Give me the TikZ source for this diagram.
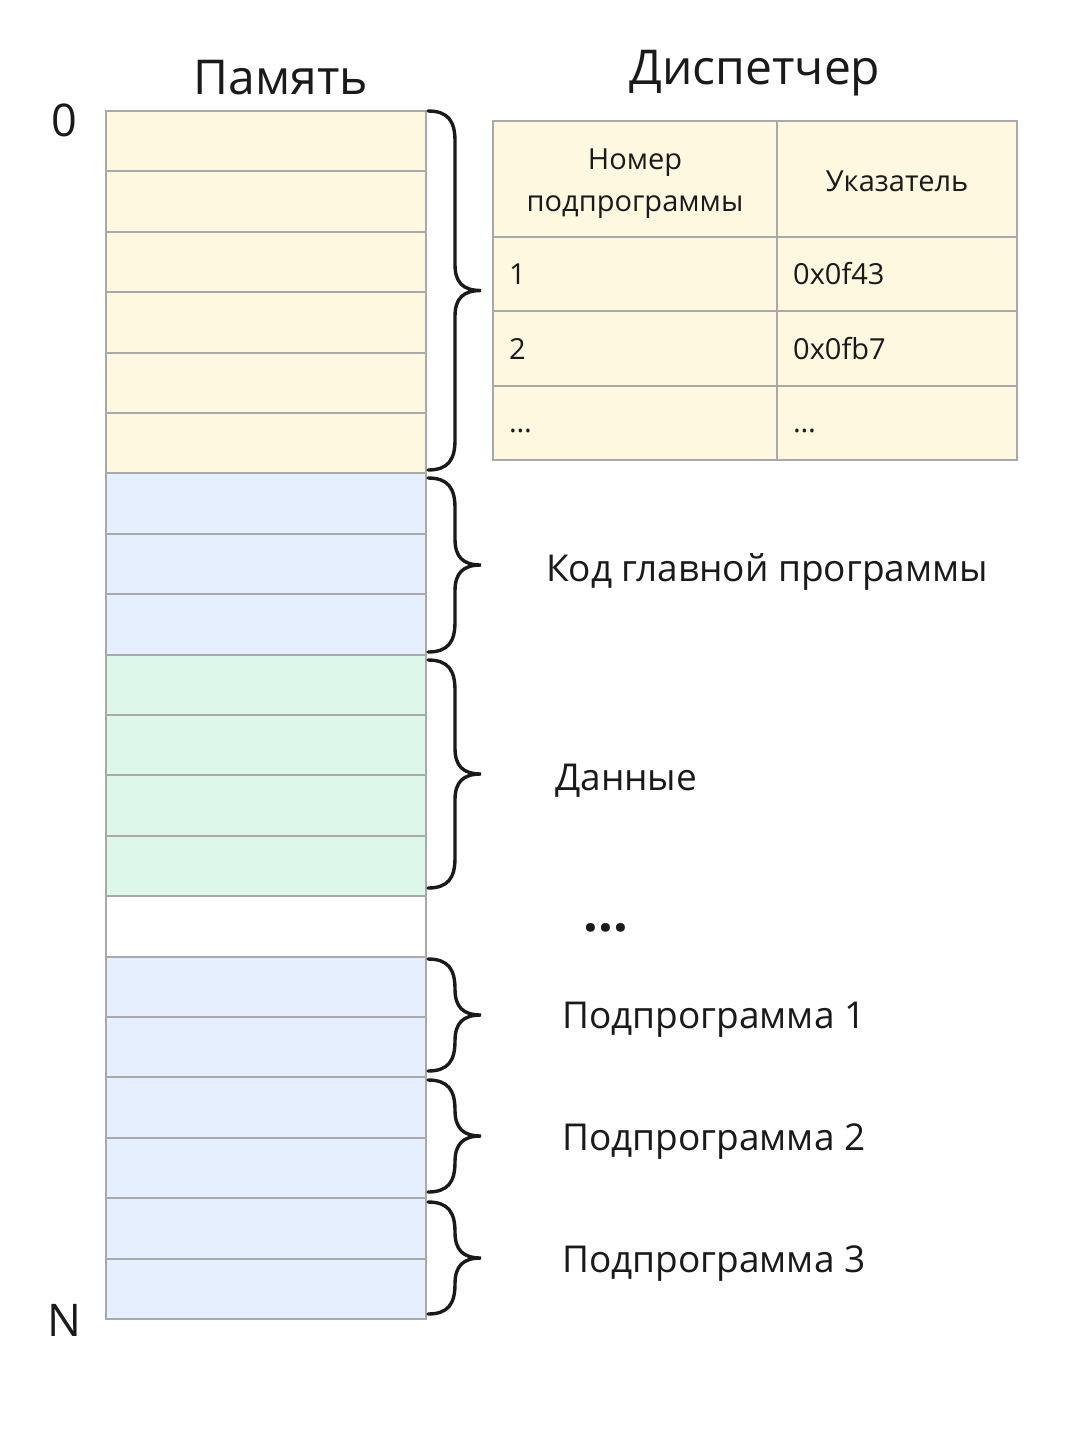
\documentclass[tikz,border=0pt]{standalone}
\usepackage{fontspec}
\setmainfont{Open Sans}
\definecolor{cyel}{HTML}{FEF8E1}
\definecolor{cblu}{HTML}{E5EFFD}
\definecolor{cgrn}{HTML}{DDF7EA}
\definecolor{cwht}{HTML}{FFFFFF}
\definecolor{cbrd}{HTML}{A9A9A9}
\definecolor{ctxt}{HTML}{1A1A1A}
\tikzset{
  cell/.style={rectangle, draw=cbrd, line width=2pt, minimum width=320pt, minimum height=60.4pt, inner sep=0pt},
  tcell/.style={rectangle, draw=cbrd, fill=cyel, line width=2pt, inner sep=0pt},
  ttext/.style={text=ctxt, font=\fontsize{29}{42}\selectfont, inner sep=0pt, align=center},
  lbl/.style={text=ctxt, font=\fontsize{37}{44}\selectfont, inner sep=0pt},
  ttl/.style={text=ctxt, font=\fontsize{48}{56}\selectfont, inner sep=0pt},
  br/.style={draw=ctxt, line width=3.4pt, line cap=round}
}
\begin{document}
\begin{tikzpicture}[x=1pt,y=-1pt]
\useasboundingbox[fill=white] (0,0) rectangle (1083,1441);
% memory cells
\foreach \i/\c in {0/cyel,1/cyel,2/cyel,3/cyel,4/cyel,5/cyel,6/cblu,7/cblu,8/cblu,9/cgrn,10/cgrn,11/cgrn,12/cgrn,13/cwht,14/cblu,15/cblu,16/cblu,17/cblu,18/cblu,19/cblu}
  \node[cell, fill=\c] (m\i) at (266,{111+60.4*\i+30.2}) {};
% titles and ends
\node[ttl] (tmem) at (281,78) {Память};
\node[ttl] (tdisp) at (755,73) {Диспетчер};
\node[ttl, font=\fontsize{45}{54}\selectfont] (zero) at (64,120) {0};
\node[ttl, font=\fontsize{45}{54}\selectfont] (enn) at (64,1320) {N};
% braces
\foreach \a/\b in {111/470, 478/652, 660/888, 959/1071, 1080/1192, 1202/1314}{
  \pgfmathsetmacro\m{(\a+\b)/2}
  \draw[br] (428,\a) .. controls (448,\a) and (455,{\a+10}) .. (455,{\a+30})
    -- (455,{\m-26}) .. controls (455,{\m-8}) and (463,\m) .. (481,\m)
    .. controls (463,\m) and (455,{\m+8}) .. (455,{\m+26})
    -- (455,{\b-30}) .. controls (455,{\b-10}) and (448,\b) .. (428,\b);
}
% labels
\node[lbl, anchor=west] (lcode) at (546,572) {Код главной программы};
\node[lbl, anchor=west] (ldata) at (555,781) {Данные};
\node[lbl, font=\fontsize{52}{56}\selectfont\bfseries] (ldots) at (606,928) {...};
\node[lbl, anchor=west] (lp1) at (562,1020) {Подпрограмма 1};
\node[lbl, anchor=west] (lp2) at (562,1142) {Подпрограмма 2};
\node[lbl, anchor=west] (lp3) at (562,1264) {Подпрограмма 3};
% table
\node[tcell, minimum width=284pt, minimum height=116pt] (h1) at (635,179) {};
\node[tcell, minimum width=240pt, minimum height=116pt] (h2) at (897,179) {};
\node[tcell, minimum width=284pt, minimum height=74pt] (a1) at (635,274) {};
\node[tcell, minimum width=240pt, minimum height=74pt] (b1) at (897,274) {};
\node[tcell, minimum width=284pt, minimum height=75pt] (a2) at (635,348.5) {};
\node[tcell, minimum width=240pt, minimum height=75pt] (b2) at (897,348.5) {};
\node[tcell, minimum width=284pt, minimum height=74pt] (a3) at (635,423) {};
\node[tcell, minimum width=240pt, minimum height=74pt] (b3) at (897,423) {};
\node[ttext] (th1) at ([yshift=-5pt]h1.center) {Номер\\подпрограммы};
\node[ttext] (th2) at ([yshift=-2pt]h2.center) {Указатель};
\node[ttext, anchor=west] (t11) at ([xshift=17pt]a1.west) {1};
\node[ttext, anchor=west] (t12) at ([xshift=17pt]b1.west) {0x0f43};
\node[ttext, anchor=west] (t21) at ([xshift=17pt]a2.west) {2};
\node[ttext, anchor=west] (t22) at ([xshift=17pt]b2.west) {0x0fb7};
\node[ttext, anchor=west] (t31) at ([xshift=17pt,yshift=-8pt]a3.west) {…};
\node[ttext, anchor=west] (t32) at ([xshift=17pt,yshift=-8pt]b3.west) {…};
\end{tikzpicture}
\end{document}
